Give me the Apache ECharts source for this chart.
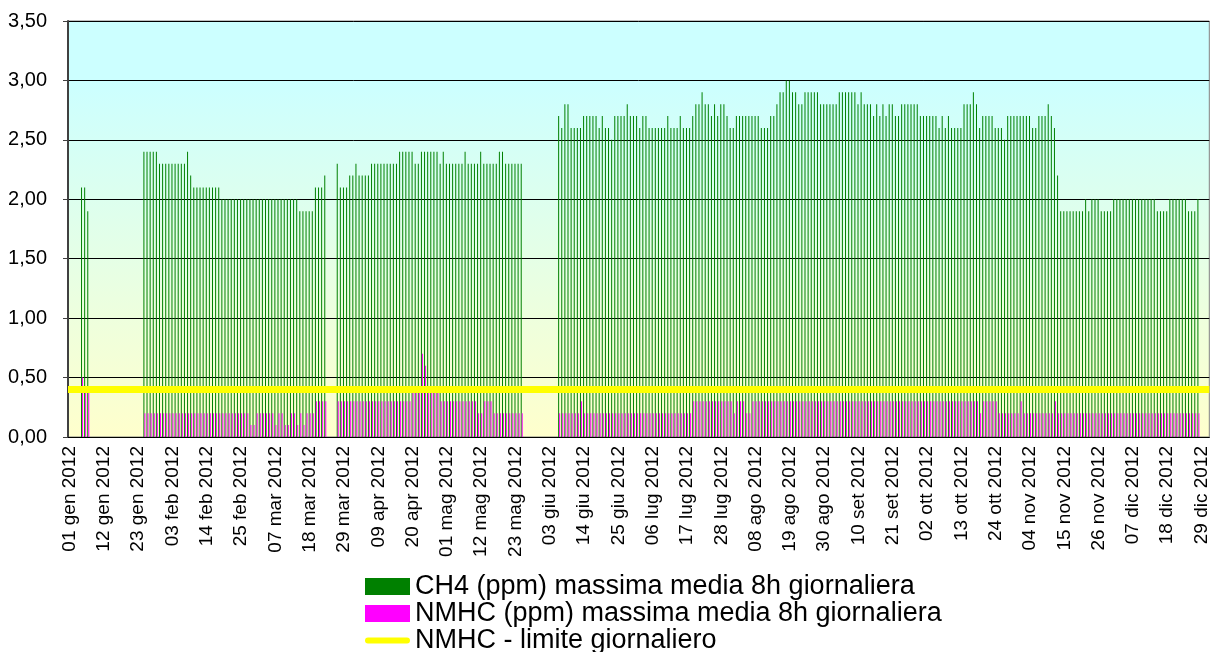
<!DOCTYPE html>
<html>
<head>
<meta charset="utf-8">
<title>CH4 e NMHC 2012</title>
<script src="https://cdn.jsdelivr.net/npm/echarts@6/dist/echarts.min.js"></script>
<style>
  html, body { margin: 0; padding: 0; background: #fff; }
  #chart { width: 1211px; height: 652px; }
</style>
</head>
<body>
<div id="chart"></div>
<script>
// giorni del 2012 (anno bisestile)
const monthNames = ['gen', 'feb', 'mar', 'apr', 'mag', 'giu', 'lug', 'ago', 'set', 'ott', 'nov', 'dic']
const monthDays = [31, 29, 31, 30, 31, 30, 31, 31, 30, 31, 30, 31]

// periodi con dati: indice del primo giorno (0 = 01 gen)
const segStart = [4, 24, 86, 157]

// CH4 (ppm) massima media 8h giornaliera
const ch4Gen = [2.1, 2.1, 1.9]
const ch4GenMar = [
  2.4, 2.4, 2.4, 2.4, 2.4,
  2.3, 2.3, 2.3, 2.3, 2.3, 2.3, 2.3, 2.3, 2.3,
  2.4, 2.2,
  2.1, 2.1, 2.1, 2.1, 2.1, 2.1, 2.1, 2.1, 2.1,
  2.0, 2.0, 2.0, 2.0, 2.0, 2.0, 2.0, 2.0, 2.0, 2.0, 2.0, 2.0, 2.0,
  2.0, 2.0, 2.0, 2.0, 2.0, 2.0, 2.0, 2.0, 2.0, 2.0, 2.0, 2.0,
  1.9, 1.9, 1.9, 1.9, 1.9,
  2.1, 2.1, 2.1, 2.2
]
const ch4MarMag = [
  2.3, 2.1, 2.1, 2.1, 2.2, 2.2, 2.3, 2.2, 2.2, 2.2, 2.2,
  2.3, 2.3, 2.3, 2.3, 2.3, 2.3, 2.3, 2.3, 2.3,
  2.4, 2.4, 2.4, 2.4, 2.4,
  2.3, 2.3,
  2.4, 2.4, 2.4, 2.4, 2.4, 2.4,
  2.3, 2.4, 2.3,
  2.3, 2.3, 2.3, 2.3, 2.3,
  2.4, 2.3, 2.3, 2.3, 2.3,
  2.4, 2.3, 2.3, 2.3, 2.3, 2.3,
  2.4, 2.4,
  2.3, 2.3, 2.3, 2.3, 2.3, 2.3
]
const ch4GiuDic = [
  2.7, 2.6, 2.8, 2.8, 2.6, 2.6, 2.6, 2.6, 2.7, 2.7, 2.7, 2.7, 2.7,
  2.6, 2.7, 2.6, 2.6, 2.5, 2.7, 2.7, 2.7, 2.7, 2.8, 2.7, 2.7,
  2.7, 2.6, 2.7, 2.7, 2.6, 2.6, 2.6, 2.6, 2.6, 2.6,
  2.7, 2.6, 2.6, 2.6, 2.7, 2.6, 2.6, 2.6, 2.7,
  2.8, 2.8, 2.9, 2.8, 2.8, 2.7, 2.8, 2.7, 2.8, 2.8, 2.7, 2.6, 2.6,
  2.7, 2.7, 2.7, 2.7, 2.7, 2.7, 2.7, 2.7, 2.6, 2.6, 2.6, 2.7, 2.7,
  2.8, 2.9, 2.9, 3.0, 3.0, 2.9, 2.9, 2.8, 2.8, 2.9, 2.9, 2.9, 2.9, 2.9, 2.8,
  2.8, 2.8, 2.8, 2.8, 2.8,
  2.9, 2.9, 2.9, 2.9, 2.9, 2.9,
  2.8, 2.9, 2.8, 2.8, 2.8,
  2.7, 2.8, 2.7, 2.8, 2.7, 2.8, 2.8, 2.7, 2.7,
  2.8, 2.8, 2.8, 2.8, 2.8, 2.8,
  2.7, 2.7, 2.7, 2.7, 2.7, 2.7,
  2.6, 2.7, 2.6, 2.7, 2.6, 2.6, 2.6, 2.6,
  2.8, 2.8, 2.8, 2.9, 2.8, 2.6,
  2.7, 2.7, 2.7, 2.7, 2.6, 2.6, 2.6, 2.5, 2.7, 2.7,
  2.7, 2.7, 2.7, 2.7, 2.7, 2.7,
  2.6, 2.6, 2.7, 2.7, 2.7, 2.8, 2.7, 2.6, 2.2,
  1.9, 1.9, 1.9, 1.9, 1.9, 1.9, 1.9, 1.9,
  2.0, 1.9, 2.0, 2.0, 2.0,
  1.9, 1.9, 1.9, 1.9,
  2.0, 2.0, 2.0, 2.0, 2.0, 2.0, 2.0, 2.0, 2.0, 2.0, 2.0, 2.0, 2.0, 2.0,
  1.9, 1.9, 1.9, 1.9,
  2.0, 2.0, 2.0, 2.0, 2.0, 2.0,
  1.9, 1.9, 1.9, 2.0
]

// NMHC (ppm) massima media 8h giornaliera
const nmhcGen = [0.5, 0.4, 0.4]
const nmhcGenMar = [
  0.2, 0.2, 0.2, 0.2, 0.2, 0.2, 0.2, 0.2, 0.2, 0.2, 0.2, 0.2, 0.2, 0.2, 0.2, 0.2, 0.2,
  0.2, 0.2, 0.2, 0.2, 0.2, 0.2, 0.2, 0.2, 0.2, 0.2, 0.2, 0.2, 0.2, 0.2, 0.2, 0.2, 0.2,
  0.1, 0.1, 0.2, 0.2, 0.2, 0.2, 0.2, 0.2, 0.1, 0.2, 0.2, 0.1, 0.1, 0.2, 0.2, 0.1,
  0.2, 0.1, 0.2, 0.2, 0.2, 0.3, 0.3, 0.3, 0.3
]
const nmhcMarMag = [
  0.3, 0.3, 0.3, 0.3, 0.3, 0.3, 0.3, 0.3, 0.3, 0.3, 0.3, 0.3,
  0.3, 0.3, 0.3, 0.3, 0.3, 0.3, 0.3, 0.3, 0.3, 0.3, 0.3, 0.3,
  0.4, 0.4, 0.4, 0.7, 0.6, 0.4, 0.4, 0.4, 0.4,
  0.3, 0.3, 0.3, 0.3, 0.3, 0.3, 0.3, 0.3, 0.3, 0.3, 0.3, 0.3,
  0.2, 0.2, 0.3, 0.3, 0.3,
  0.2, 0.2, 0.2, 0.2, 0.2, 0.2, 0.2, 0.2, 0.2, 0.2
]
const nmhcGiuDic = [
  0.2, 0.2, 0.2, 0.2, 0.2, 0.2, 0.2, 0.3, 0.2, 0.2, 0.2, 0.2, 0.2, 0.2, 0.2,
  0.2, 0.2, 0.2, 0.2, 0.2, 0.2, 0.2, 0.2, 0.2, 0.2, 0.2, 0.2, 0.2, 0.2, 0.2,
  0.2, 0.2, 0.2, 0.2, 0.2, 0.2, 0.2, 0.2, 0.2, 0.2, 0.2, 0.2, 0.2,
  0.3, 0.3, 0.3, 0.3, 0.3, 0.3, 0.3, 0.3, 0.3, 0.3, 0.3, 0.3, 0.3,
  0.2, 0.3, 0.3, 0.3, 0.2, 0.2,
  0.3, 0.3, 0.3, 0.3, 0.3, 0.3, 0.3, 0.3, 0.3, 0.3, 0.3, 0.3, 0.3, 0.3, 0.3,
  0.3, 0.3, 0.3, 0.3, 0.3, 0.3, 0.3, 0.3, 0.3, 0.3, 0.3, 0.3, 0.3, 0.3, 0.3,
  0.3, 0.3, 0.3, 0.3, 0.3, 0.3, 0.3, 0.3, 0.3, 0.3, 0.3, 0.3, 0.3, 0.3, 0.3,
  0.3, 0.3, 0.3, 0.3, 0.3, 0.3, 0.3, 0.3, 0.3, 0.3, 0.3, 0.3, 0.3, 0.3, 0.3,
  0.3, 0.3, 0.3, 0.3, 0.3, 0.3, 0.3, 0.3, 0.3, 0.3, 0.3, 0.3, 0.3,
  0.2, 0.3, 0.3, 0.3, 0.3, 0.3,
  0.2, 0.2, 0.2, 0.2, 0.2, 0.2, 0.2, 0.3,
  0.2, 0.2, 0.2, 0.2, 0.2, 0.2, 0.2, 0.2, 0.2, 0.2, 0.3,
  0.2, 0.2, 0.2, 0.2, 0.2, 0.2, 0.2, 0.2, 0.2, 0.2, 0.2, 0.2, 0.2, 0.2, 0.2, 0.2,
  0.2, 0.2, 0.2, 0.2, 0.2, 0.2, 0.2, 0.2, 0.2, 0.2, 0.2, 0.2, 0.2, 0.2, 0.2,
  0.2, 0.2, 0.2, 0.2, 0.2, 0.2, 0.2, 0.2, 0.2, 0.2, 0.2, 0.2, 0.2, 0.2, 0.2
]

// NMHC - limite giornaliero (ppm)
const nmhcLimit = 0.4

const yTicks = { min: 0, max: 3.5, interval: 0.5 }

// --- costruzione ---
const days = []
monthNames.forEach((m, i) => {
  for (let d = 1; d <= monthDays[i]; d++) {
    days.push((d < 10 ? '0' + d : '' + d) + ' ' + m + ' 2012')
  }
})

function placeSegments(segments) {
  const out = days.map(() => null)
  segments.forEach((seg, k) => {
    seg.forEach((v, j) => { out[segStart[k] + j] = v })
  })
  return out
}

const ch4 = placeSegments([ch4Gen, ch4GenMar, ch4MarMag, ch4GiuDic])
const nmhc = placeSegments([nmhcGen, nmhcGenMar, nmhcMarMag, nmhcGiuDic])

// icona legenda: linea gialla con estremi arrotondati (i punti agli angoli fissano il riquadro 45x17)
const limitIcon = 'path://M0,0L0.01,0L0,0.01ZM45,17L44.99,17L45,16.99Z' +
  'M3,5.5L42,5.5A3,3,0,0,1,42,11.5L3,11.5A3,3,0,0,1,3,5.5Z'

const font = '"Liberation Sans", Arial, sans-serif'
const chart = echarts.init(document.getElementById('chart'))

chart.setOption({
  animation: false,
  textStyle: { fontFamily: font, color: '#000' },
  grid: {
    left: 68,
    top: 21,
    width: 1151,
    height: 416,
    show: true,
    borderColor: '#808080',
    borderWidth: 1,
    backgroundColor: new echarts.graphic.LinearGradient(0, 0, 0, 1, [
      { offset: 0, color: '#CCFFFF' },
      { offset: 0.15, color: '#CCFFFF' },
      { offset: 1, color: '#FFFFCC' }
    ])
  },
  legend: {
    orient: 'vertical',
    left: 365,
    top: 573,
    height: 120,
    padding: 0,
    itemWidth: 45,
    itemHeight: 17,
    itemGap: 0,
    textStyle: { fontFamily: font, fontSize: 27, lineHeight: 26, color: '#000' },
    data: [
      { name: 'CH4 (ppm) massima media 8h giornaliera', icon: 'rect' },
      { name: 'NMHC (ppm) massima media 8h giornaliera', icon: 'rect' },
      { name: 'NMHC - limite giornaliero', icon: limitIcon }
    ]
  },
  xAxis: {
    type: 'category',
    data: days,
    boundaryGap: true,
    axisLine: { lineStyle: { color: '#000', width: 1 } },
    axisTick: { interval: 0, length: 4, lineStyle: { color: '#000' } },
    axisLabel: {
      interval: 10,
      rotate: 90,
      margin: 9,
      padding: [6, 0, 0, 0],
      fontSize: 19,
      fontFamily: font,
      color: '#000'
    },
    splitLine: { show: false }
  },
  yAxis: {
    type: 'value',
    min: yTicks.min,
    max: yTicks.max,
    interval: yTicks.interval,
    axisLine: { show: true, lineStyle: { color: '#404040', width: 2 } },
    axisTick: { show: true, length: 5, lineStyle: { color: '#404040' } },
    axisLabel: {
      margin: 21,
      fontSize: 20,
      fontFamily: font,
      color: '#000',
      formatter: v => v.toFixed(2).replace('.', ',')
    },
    splitLine: { lineStyle: { color: '#000', width: 1 } }
  },
  series: [
    {
      name: 'CH4 (ppm) massima media 8h giornaliera',
      type: 'bar',
      data: ch4,
      barWidth: 1,
      barGap: '0%',
      itemStyle: { color: '#008000' }
    },
    {
      name: 'NMHC (ppm) massima media 8h giornaliera',
      type: 'bar',
      data: nmhc,
      barWidth: 1,
      barGap: '0%',
      itemStyle: { color: '#FF00FF' }
    },
    {
      name: 'NMHC - limite giornaliero',
      type: 'line',
      data: [],
      symbol: 'none',
      lineStyle: { color: '#FFFF00', width: 5, cap: 'round' },
      itemStyle: { color: '#FFFF00' },
      markLine: {
        silent: true,
        symbol: 'none',
        label: { show: false },
        lineStyle: { color: '#FFFF00', width: 7, type: 'solid' },
        data: [{ yAxis: nmhcLimit }]
      }
    }
  ]
})
</script>
</body>
</html>
